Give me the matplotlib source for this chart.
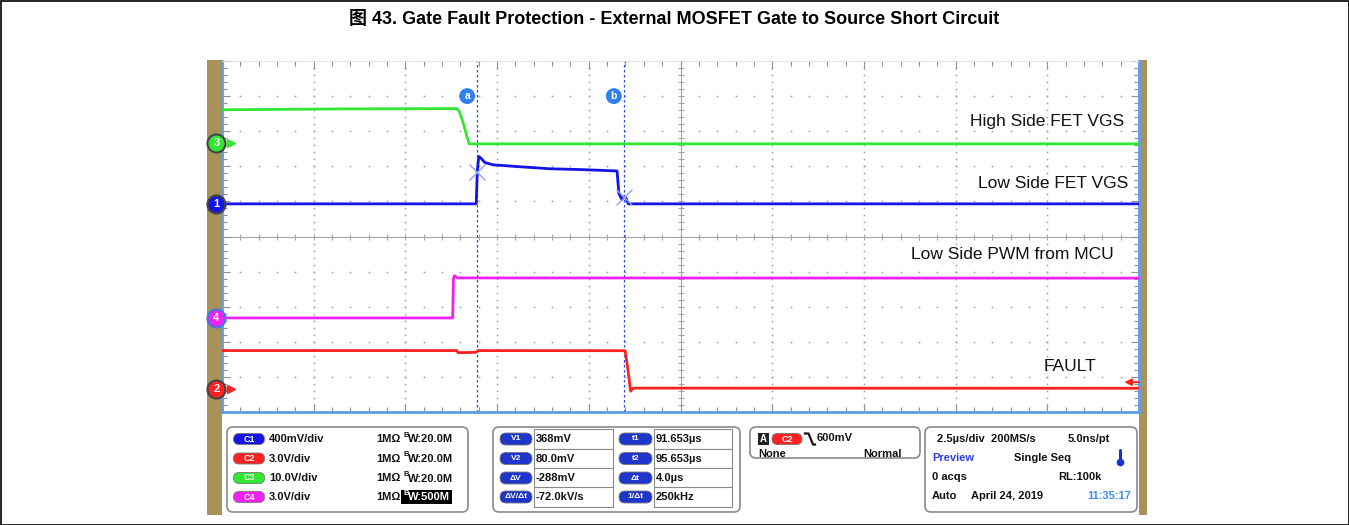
import numpy as np
import matplotlib.pyplot as plt
from matplotlib.patches import Rectangle, FancyBboxPatch
from matplotlib.transforms import blended_transform_factory

plt.rcParams['font.family'] = ['Liberation Sans', 'Noto Sans CJK SC', 'DejaVu Sans']

W, H = 1349, 525

# ----------------------------
# Scope settings
# ----------------------------
t_left = 84.7          # time at left edge of screen (us)
us_per_div = 2.5
n_div = 10

ch_names = ["C1", "C2", "C3", "C4"]
ch_scale = {"C1": 0.4, "C2": 3.0, "C3": 10.0, "C4": 3.0}          # V/div
ch_offset = {"C1": 0.93, "C2": -4.35, "C3": 2.66, "C4": -2.32}     # ground, div from center
ch_color = {"C1": "#1414e6", "C2": "#ff2020", "C3": "#2fe82f", "C4": "#f020f0"}
ch_bw = {"C1": "20.0M", "C2": "20.0M", "C3": "20.0M", "C4": "500M"}

# ----------------------------
# Waveforms (time in us, volts)
# ----------------------------
# C3: high side FET VGS
c3_t = [84.70, 88.00, 91.10, 91.17, 91.27, 91.38, 91.44, 109.70]
c3_v = [9.50, 9.75, 9.85, 9.00, 6.00, 1.80, -0.20, -0.20]

# C1: low side FET VGS
c1_t = [84.70, 91.63, 91.66, 91.70, 91.76, 91.87, 92.09, 92.74, 93.64, 94.54,
        95.47, 95.52, 95.60, 95.66, 95.72, 95.78, 109.70]
c1_v = [0.0, 0.0, 0.37, 0.54, 0.52, 0.47, 0.445, 0.425, 0.40, 0.39,
        0.375, 0.12, 0.05, 0.08, 0.06, 0.0, 0.0]

# C4: low side PWM from MCU
c4_t = [84.70, 90.99, 91.01, 91.04, 91.12, 109.70]
c4_v = [0.0, 0.0, 3.40, 3.60, 3.42, 3.40]

# C2: nFAULT
c2_t = [84.70, 91.10, 91.14, 91.62, 91.68, 95.69, 95.77, 95.84, 95.91, 109.70]
c2_v = [3.30, 3.30, 3.12, 3.15, 3.30, 3.29, 1.60, -0.17, 0.09, 0.08]

waves = {"C1": (c1_t, c1_v), "C2": (c2_t, c2_v), "C3": (c3_t, c3_v), "C4": (c4_t, c4_v)}

# cursors (on C1)
t1, t2 = 91.653, 95.653
v1, v2 = 0.368, 0.080
trig_level = 0.6       # C2 falling edge

trace_labels = [("High Side FET VGS", 0.984, 3.29),
                ("Low Side FET VGS", 0.988, 1.52),
                ("Low Side PWM from MCU", 0.972, -0.50),
                ("FAULT", 0.954, -3.69)]


def to_div(ch, v):
    return np.asarray(v, dtype=float) / ch_scale[ch] + ch_offset[ch]


def fmt_scale(s):
    return f"{s*1000:.0f}mV/div" if s < 1 else f"{s:.1f}V/div"


fig = plt.figure(figsize=(W / 100, H / 100), dpi=100)

# pixel overlay for frame, title and readout panels
pix = fig.add_axes([0, 0, 1, 1], zorder=0)
pix.set_xlim(0, W)
pix.set_ylim(H, 0)
pix.axis("off")

pix.add_patch(Rectangle((0.5, 0.5), W - 1, H - 1, fill=False, ec="black", lw=1.2))
pix.text(674, 20, "图 43. Gate Fault Protection - External MOSFET Gate to Source Short Circuit",
         ha="center", va="center", fontsize=13, fontweight="bold")

olive = "#a8925a"
pix.add_patch(Rectangle((207, 60), 15, 455, color=olive, lw=0))
pix.add_patch(Rectangle((1139, 60), 8, 455, color=olive, lw=0))

# ----------------------------
# Graticule
# ----------------------------
ax = fig.add_axes([222 / W, 1 - 412 / H, 917 / W, 351 / H], zorder=2)
t_right = t_left + n_div * us_per_div
ax.set_xlim(t_left, t_right)
ax.set_ylim(-5, 5)
ax.set_facecolor("white")

grid_c = "#a4a4a4"
ax.set_xticks(np.linspace(t_left, t_right, n_div + 1))
ax.set_xticks(np.linspace(t_left, t_right, n_div * 5 + 1), minor=True)
ax.set_yticks(np.arange(-5, 5.01, 1))
ax.set_yticks(np.linspace(-5, 5, 51), minor=True)
ax.tick_params(which="both", direction="in", top=True, right=True,
               labelbottom=False, labelleft=False, color="#909090", width=0.8)
ax.tick_params(which="major", length=6)
ax.tick_params(which="minor", length=3.5)

for side in ["left", "right", "bottom"]:
    ax.spines[side].set_color("#5b9ee8")
    ax.spines[side].set_linewidth(2)
ax.spines["top"].set_color("#dddddd")
ax.spines["top"].set_linewidth(0.6)

xs_minor = np.linspace(t_left, t_right, n_div * 5 + 1)
ys_minor = np.linspace(-5, 5, 51)
for k in range(1, n_div):
    xg = t_left + k * us_per_div
    if k != 5:
        ax.plot(np.full_like(ys_minor, xg), ys_minor, ls="none", marker="o",
                ms=1.3, mew=0, color=grid_c, zorder=1)
    yg = k - 5
    if yg != 0:
        ax.plot(xs_minor, np.full_like(xs_minor, yg), ls="none", marker="o",
                ms=1.3, mew=0, color=grid_c, zorder=1)

# center crosshair with minor ticks
tc = t_left + 5 * us_per_div
ax.axhline(0, color=grid_c, lw=0.8, zorder=1)
ax.axvline(tc, color=grid_c, lw=0.8, zorder=1)
ax.plot(xs_minor, np.zeros_like(xs_minor), ls="none", marker="|", ms=5, mew=0.8, color=grid_c, zorder=1)
ax.plot(np.full_like(ys_minor, tc), ys_minor, ls="none", marker="_", ms=5, mew=0.8, color=grid_c, zorder=1)

# ----------------------------
# Traces
# ----------------------------
for ch in ["C3", "C4", "C2", "C1"]:
    t, v = waves[ch]
    ax.plot(t, to_div(ch, v), color=ch_color[ch], lw=2.0, zorder=3)

for txt, xf, yd in trace_labels:
    ax.text(xf, yd, txt, transform=blended_transform_factory(ax.transAxes, ax.transData),
            ha="right", va="center", fontsize=12.5, color="#111111", zorder=4)

# cursors
cur_c = "#2a48e0"
for tc_, lab in [(t1, "a"), (t2, "b")]:
    ax.axvline(tc_, color=cur_c, lw=0.9, ls=(0, (2, 2)), zorder=2)
    ax.text(tc_ - 0.27, 4.0, lab, ha="center", va="center", fontsize=7.5, fontweight="bold",
            color="white", zorder=5,
            bbox=dict(boxstyle="circle,pad=0.28", fc="#2f7ff0", ec="none"))
ax.plot([t1, t2], to_div("C1", [v1, v2]), ls="none", marker="x", ms=11, mew=1.0,
        color="#8fa3f2", zorder=4)

# ground markers on the left edge
bt = blended_transform_factory(ax.transAxes, ax.transData)
for ch in ch_names:
    y0 = ch_offset[ch]
    ec = "#3a7be0" if ch == "C4" else "#444444"
    ax.plot([-0.006], [y0], transform=bt, marker="o", ms=13, mfc=ch_color[ch], mec=ec,
            mew=1.5, clip_on=False, zorder=6)
    ax.text(-0.006, y0, ch[1], transform=bt, ha="center", va="center", fontsize=8,
            fontweight="bold", color="white", clip_on=False, zorder=7)
    if ch in ("C2", "C3"):
        ax.plot([0.010], [y0], transform=bt, marker=">", ms=5.5, color=ch_color[ch],
                clip_on=False, zorder=6)

# trigger level arrow on the right edge
yt = to_div("C2", trig_level)
ax.annotate("", xy=(0.984, yt), xytext=(1.0, yt), xycoords=bt, textcoords=bt,
            arrowprops=dict(arrowstyle="-|>", color=ch_color["C2"], lw=1.4,
                            mutation_scale=10, shrinkA=0, shrinkB=0),
            zorder=6)

# ----------------------------
# Readout panels
# ----------------------------
pt = dict(fontsize=8, fontweight="bold", va="center", color="#111111")


def panel(x0, y0, x1, y1):
    pix.add_patch(FancyBboxPatch((x0, y0), x1 - x0, y1 - y0,
                                 boxstyle="round,pad=0,rounding_size=6",
                                 fc="white", ec="#8a8a8a", lw=1.2))


def pill(xc, yc, w, h, fc, txt, fs=6.5):
    pix.add_patch(FancyBboxPatch((xc - w / 2, yc - h / 2), w, h,
                                 boxstyle=f"round,pad=0,rounding_size={h/2}",
                                 fc=fc, ec="#777777", lw=0.6))
    pix.text(xc, yc, txt, ha="center", va="center", fontsize=fs, fontweight="bold", color="white")


rows = [439, 458.5, 478, 497]

# channel settings
panel(227, 427, 468, 512)
for ch, y in zip(ch_names, rows):
    pill(249, y, 31, 11, ch_color[ch], ch)
    pix.text(269, y, fmt_scale(ch_scale[ch]), ha="left", **pt)
    pix.text(376, y, "1MΩ", ha="left", **pt)
    fg = "#111111"
    if ch_bw[ch] == "500M":
        pix.add_patch(Rectangle((401, y - 7), 51, 14, color="black", lw=0))
        fg = "white"
    pix.text(403, y - 3.5, "B", ha="left", fontsize=5.5, fontweight="bold", va="center", color=fg)
    pix.text(408, y + 0.5, "W:" + ch_bw[ch], ha="left", fontsize=8, fontweight="bold",
             va="center", color=fg)

# cursor readouts
dv = v2 - v1
dt = t2 - t1
left_lab = ["V1", "V2", "ΔV", "ΔV/Δt"]
left_val = [f"{v1*1000:.0f}mV", f"{v2*1000:.1f}mV", f"{dv*1000:.0f}mV", f"{dv/dt*1000:.1f}kV/s"]
right_lab = ["t1", "t2", "Δt", "1/Δt"]
right_val = [f"{t1:.3f}µs", f"{t2:.3f}µs", f"{dt:.1f}µs", f"{1000/dt:.0f}kHz"]

panel(493, 427, 740, 512)
for i, y in enumerate(rows):
    pill(516, y, 32, 12, "#1f36cc", left_lab[i], fs=6)
    pix.add_patch(Rectangle((534, y - 9.75), 79, 19.5, fc="white", ec="#8a8a8a", lw=0.8))
    pix.text(536, y, left_val[i], ha="left", **pt)
    pill(635.5, y, 33, 12, "#1f36cc", right_lab[i], fs=6)
    pix.add_patch(Rectangle((654, y - 9.75), 78, 19.5, fc="white", ec="#8a8a8a", lw=0.8))
    pix.text(656, y, right_val[i], ha="left", **pt)

# trigger
panel(750, 427, 920, 458)
pix.add_patch(Rectangle((758, 433), 11, 12, color="#222222", lw=0))
pix.text(763.5, 439, "A", ha="center", va="center", fontsize=7, fontweight="bold", color="white")
pill(787, 439, 30, 11, ch_color["C2"], "C2")
pix.plot([805, 808.5, 813, 815], [433.5, 433.5, 444.5, 444.5], color="#111111", lw=1.6)
pix.text(817, 438, f"{trig_level*1000:.0f}mV", ha="left", **pt)
pix.text(758, 454, "None", ha="left", **pt)
pix.text(902, 454, "Normal", ha="right", **pt)

# acquisition
panel(925, 427, 1137, 512)
pix.text(937, 439, "2.5µs/div  200MS/s", ha="left", **pt)
pix.text(1068, 439, "5.0ns/pt", ha="left", **pt)
pix.text(932, 458, "Preview", ha="left", fontsize=8, fontweight="bold", va="center", color="#2d3de0")
pix.text(1014, 458, "Single Seq", ha="left", **pt)
pix.plot([1120, 1120], [450, 461], color="#1d2fd0", lw=2.2, solid_capstyle="round")
pix.plot([1120], [462], marker="o", ms=4.5, color="#1d2fd0")
pix.text(932, 477, "0 acqs", ha="left", **pt)
pix.text(1058, 477, "RL:100k", ha="left", **pt)
pix.text(932, 496, "Auto", ha="left", **pt)
pix.text(971, 496, "April 24, 2019", ha="left", **pt)
pix.text(1087, 496, "11:35:17", ha="left", fontsize=8, fontweight="bold", va="center", color="#3b8ff0")

fig.savefig("out.png", dpi=100)
